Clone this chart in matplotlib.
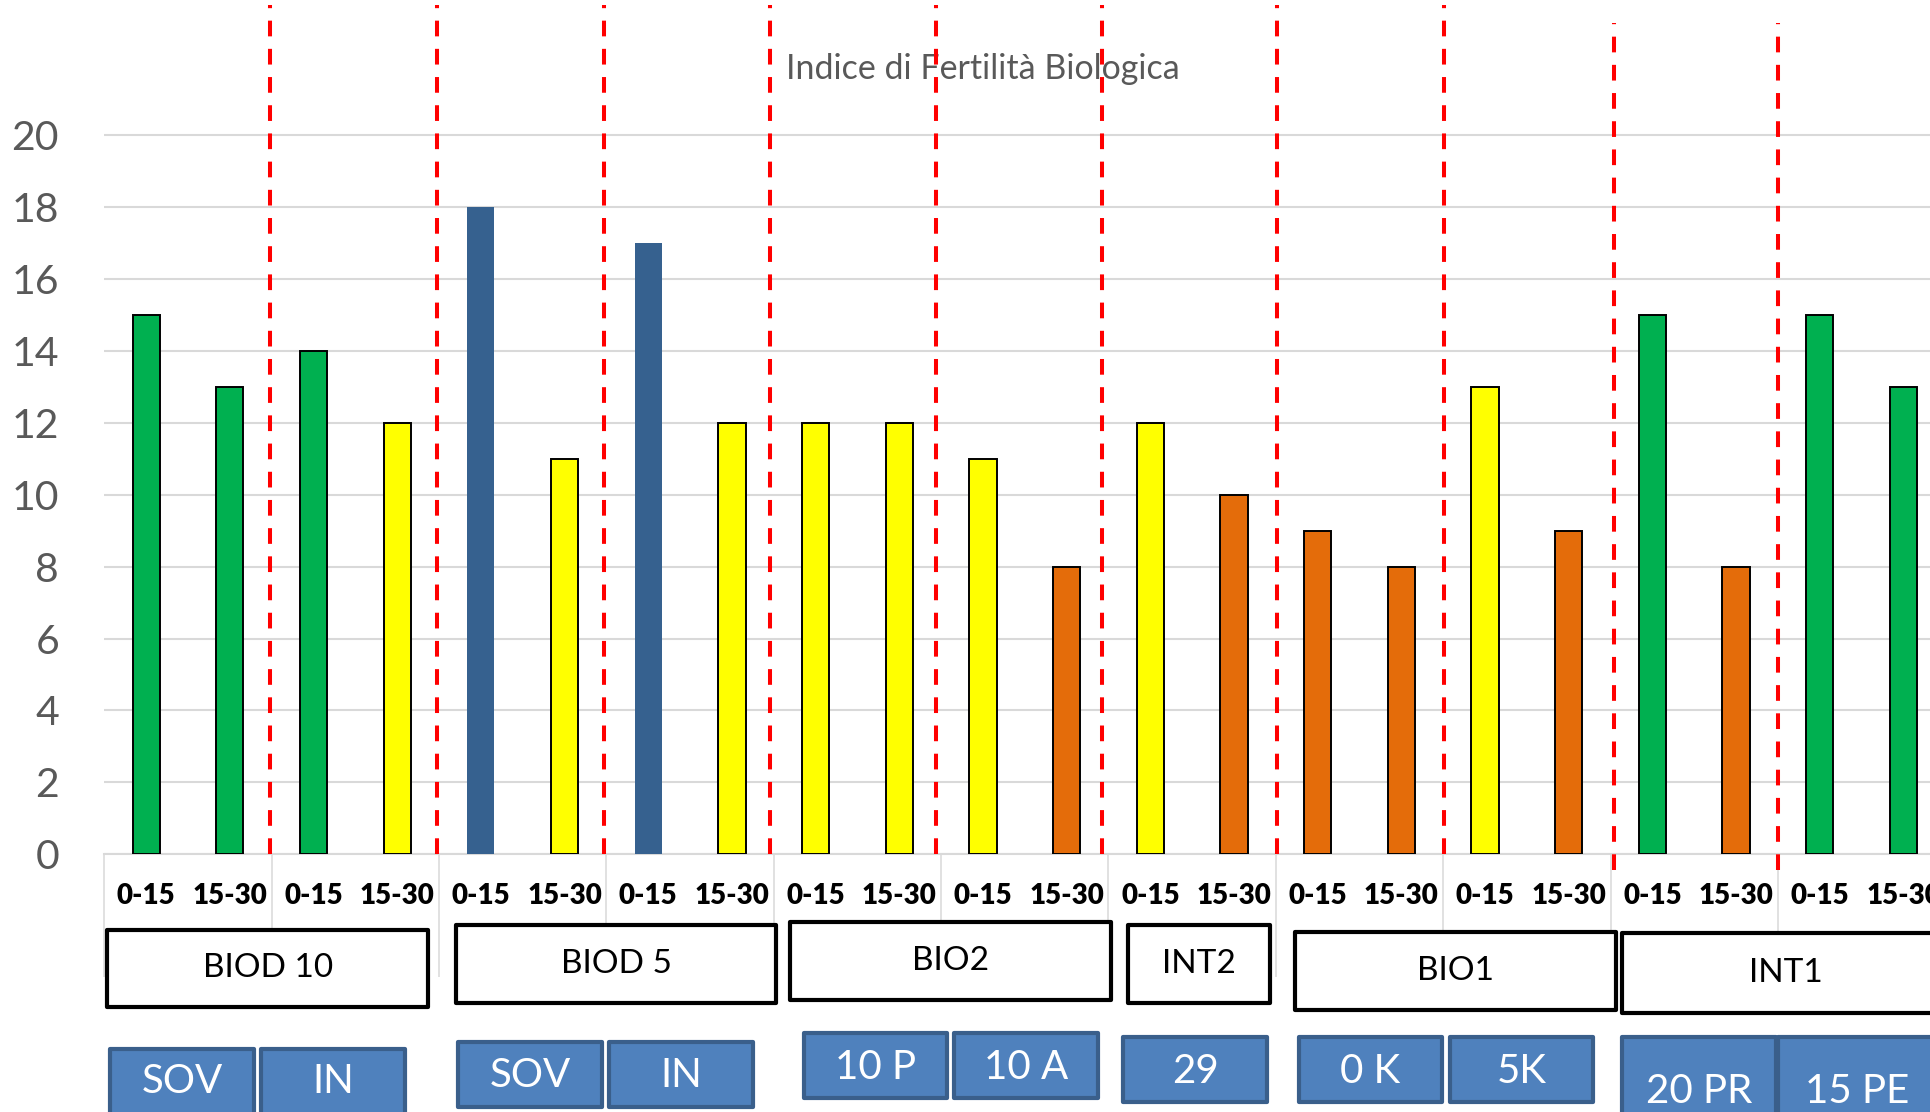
import matplotlib
matplotlib.use('Agg')
import matplotlib.pyplot as plt
from matplotlib.patches import Rectangle
import numpy as np

plt.rcParams['font.family'] = ['Lato', 'DejaVu Sans']

# Indice di Fertilità Biologica per campione (profondità 0-15 / 15-30 cm)
depths = ['0-15', '15-30'] * 11
ibf = [15, 13, 14, 12, 18, 11, 17, 12, 12, 12, 11, 8, 12, 10, 9, 8, 13, 9, 15, 8, 15, 13]
bar_colors = ['#00B050', '#00B050', '#00B050', '#FFFF00', '#36618F', '#FFFF00',
              '#36618F', '#FFFF00', '#FFFF00', '#FFFF00', '#FFFF00', '#E46C0A',
              '#FFFF00', '#E46C0A', '#E46C0A', '#E46C0A', '#FFFF00', '#E46C0A',
              '#00B050', '#E46C0A', '#00B050', '#00B050']

groups = ['BIOD 10', 'BIOD 5', 'BIO2', 'INT2', 'BIO1', 'INT1']
treatments = ['SOV', 'IN', 'SOV', 'IN', '10 P', '10 A', '29', '0 K', '5K', '20 PR', '15 PE']

# box outlines below the axis: (left, right, top, bottom) in data units
group_boxes = [(-0.467, 3.369, -2.10, -4.25), (3.703, 7.527, -1.97, -4.14),
               (7.694, 11.53, -1.88, -4.05), (11.734, 13.431, -1.97, -4.14),
               (13.73, 17.57, -2.16, -4.33), (17.637, 21.557, -2.19, -4.41)]
treat_boxes = [(-0.431, 1.291, -5.42, -7.6, -6.33), (1.373, 3.094, -5.42, -7.6, -6.33),
               (3.727, 5.448, -5.22, -7.03, -6.14), (5.532, 7.253, -5.22, -7.03, -6.14),
               (7.862, 9.57, -4.97, -6.78, -5.92), (9.654, 11.376, -4.97, -6.78, -5.92),
               (11.675, 13.396, -5.08, -6.89, -6.03), (13.777, 15.486, -5.08, -6.89, -6.03),
               (15.581, 17.29, -5.08, -6.89, -6.03), (17.637, 19.478, -5.08, -8.0, -6.59),
               (19.502, 21.38, -5.08, -8.0, -6.59)]
# red dashed dividers: x, top, bottom
dividers = [(1.486, 23.62, 0.0), (3.479, 23.62, 0.0), (5.467, 23.62, 0.0),
            (7.455, 23.62, 0.0), (9.435, 23.62, 0.0), (11.428, 23.62, 0.0),
            (13.508, 23.62, 0.0), (15.504, 23.62, 0.0), (17.545, 23.12, -0.43),
            (19.506, 23.12, -0.43)]

W, H = 1931, 1112
fig = plt.figure(figsize=(W / 100, H / 100), dpi=100)
ax = fig.add_axes([104.3 / W, 257.7 / H, 1841 / W, 854.3 / H])
ax.set_xlim(-0.5, 21.5)
ax.set_ylim(0, 23.763)

x = np.arange(len(ibf))
edges = ['none' if c == '#36618F' else 'black' for c in bar_colors]
ax.bar(x, ibf, width=0.325, color=bar_colors, edgecolor=edges, linewidth=1.4, zorder=3)

for s in ['top', 'right', 'left']:
    ax.spines[s].set_visible(False)
ax.spines['bottom'].set_color('#d9d9d9')
ax.spines['bottom'].set_linewidth(1.5)

ax.set_yticks(range(0, 21, 2))
ax.tick_params(axis='y', length=0, pad=32.6, labelsize=29.5, labelcolor='#595959')
ax.yaxis.grid(True, color='#d9d9d9', linewidth=1.5)
ax.set_axisbelow(True)

ax.set_xticks(x)
ax.set_xticklabels(depths, fontweight='heavy', fontsize=20)
ax.tick_params(axis='x', which='major', length=0, pad=20.5)
ax.set_xticks(np.arange(-0.5, 22, 2), minor=True)
ax.tick_params(axis='x', which='minor', length=88.6, width=1.1, color='#d9d9d9', direction='out')

ax.text(10.0, 21.84, 'Indice di Fertilità Biologica', ha='center', va='center',
        fontsize=24.5, color='#595959', zorder=2, clip_on=False)

for xd, top, bot in dividers:
    ax.plot([xd, xd], [bot, top], color='red', linewidth=2.9, linestyle=(0, (3.9, 3.1)),
            dash_capstyle='butt', clip_on=False, zorder=4)

for name, (l, r, t, b) in zip(groups, group_boxes):
    ax.add_patch(Rectangle((l, b), r - l, t - b, facecolor='white', edgecolor='black',
                           linewidth=3, joinstyle='round', clip_on=False, zorder=6))
    ax.text((l + r) / 2, (t + b) / 2, name, ha='center', va='center', fontsize=24,
            color='black', clip_on=False, zorder=7)

for name, (l, r, t, b, ty) in zip(treatments, treat_boxes):
    ax.add_patch(Rectangle((l, b), r - l, t - b, facecolor='#4F81BD', edgecolor='#3A5F8B',
                           linewidth=3, joinstyle='round', clip_on=False, zorder=6))
    ax.text((l + r) / 2, ty, name, ha='center', va='center', fontsize=29,
            color='white', clip_on=False, zorder=7)

fig.savefig('out.png', dpi=100)
